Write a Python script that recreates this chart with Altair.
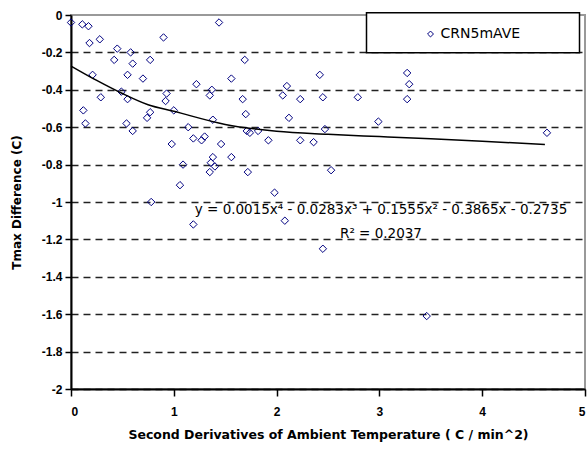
import altair as alt
import pandas as pd

# ---- data ----
series_name = ["CRN5mAVE"]

x_vals = [0.00, 0.11, 0.17, 0.18, 0.28, 0.45, 0.42, 0.58, 0.60, 0.77,
          0.90, 1.44, 0.21, 0.55, 0.70, 0.29, 0.49, 0.55, 0.93, 0.92,
          1.00, 0.74, 0.77, 0.12, 0.14, 0.54, 0.60, 0.98, 1.14, 1.19,
          1.27, 1.30, 1.46, 1.09, 1.06, 1.38, 1.36, 1.40, 1.35, 1.56,
          1.72, 1.69, 1.22, 1.35, 1.37, 1.56, 1.67, 1.70, 1.38, 1.74,
          1.82, 1.92, 2.10, 2.06, 2.23, 2.12, 2.23, 2.36, 2.42, 1.98,
          2.08, 0.78, 1.19, 2.45, 2.79, 3.27, 3.29, 3.27, 2.47, 2.99,
          2.53, 4.63, 2.45, 3.46, 1.71]

y_vals = [-0.04, -0.05, -0.06, -0.15, -0.13, -0.18, -0.24, -0.20, -0.26, -0.24,
          -0.12, -0.04, -0.32, -0.32, -0.34, -0.44, -0.41, -0.45, -0.42, -0.46,
          -0.51, -0.55, -0.52, -0.51, -0.58, -0.58, -0.62, -0.69, -0.60, -0.66,
          -0.67, -0.65, -0.69, -0.80, -0.91, -0.76, -0.79, -0.81, -0.84, -0.76,
          -0.84, -0.24, -0.37, -0.43, -0.40, -0.34, -0.45, -0.53, -0.56, -0.63,
          -0.62, -0.67, -0.38, -0.43, -0.45, -0.55, -0.67, -0.68, -0.32, -0.95,
          -1.10, -1.00, -1.12, -0.44, -0.44, -0.31, -0.37, -0.45, -0.61, -0.57,
          -0.83, -0.63, -1.25, -1.61, -0.62]

# polynomial trend line
trend_x = [0.0, 0.25, 0.5, 0.75, 1.0, 1.5, 2.0, 2.5, 3.0, 3.5, 4.0, 4.61]
trend_y = [-0.273, -0.35, -0.42, -0.48, -0.515, -0.585, -0.622, -0.638, -0.650,
           -0.662, -0.675, -0.692]

x_ticks = [0, 1, 2, 3, 4, 5]
y_ticks = [0, -0.2, -0.4, -0.6, -0.8, -1, -1.2, -1.4, -1.6, -1.8, -2]

equation_text = ["y = 0.0015x\u2074 - 0.0283x\u00b3 + 0.1555x\u00b2 - 0.3865x - 0.2735"]
r2_text = ["R\u00b2 = 0.2037"]

x_title = "Second Derivatives of Ambient Temperature ( C / min^2)"
y_title = "Tmax Difference (C)"

FONT = "Liberation Sans"
WIDE = "DejaVu Sans"

df = pd.DataFrame({"x": x_vals, "y": y_vals, "series": series_name * len(x_vals)})
trend_df = pd.DataFrame({"x": trend_x, "y": trend_y})

xscale = alt.Scale(domain=[0, 5], nice=False, zero=False)
yscale = alt.Scale(domain=[-2, 0], nice=False, zero=False)

x_axis = alt.Axis(
    values=x_ticks, tickCount=len(x_ticks), grid=False, title=x_title,
    labelExpr="'' + datum.value",
    labelFont=FONT, labelFontSize=12, labelFontWeight="bold", labelColor="black",
    titleFont=WIDE, titleFontSize=12.5, titleFontWeight="bold", titleColor="black",
    domainColor="black", domainWidth=2, tickColor="black", tickWidth=1.5, tickSize=7,
    labelPadding=10, titlePadding=11,
)

y_axis = alt.Axis(
    values=y_ticks, tickCount=len(y_ticks), labelOverlap=False, title=y_title,
    labelExpr="'' + datum.value",
    labelFont=FONT, labelFontSize=12, labelFontWeight="bold", labelColor="black",
    titleFont=WIDE, titleFontSize=12, titleFontWeight="bold", titleColor="black",
    domainColor="black", domainWidth=2, tickColor="black", tickWidth=1.5, tickSize=6,
    labelPadding=3, titlePadding=18,
    grid=True,
    gridColor={"condition": {"test": "datum.value === 0", "value": "transparent"},
               "value": "#222222"},
    gridDash=[7, 5], gridWidth=1.5,
)

# legend frame (layout decoration, pixel positions relative to the plot area)
frame = alt.Chart(pd.DataFrame({"k": [0]})).mark_rect(
    fill="white", stroke="black", strokeWidth=1.5
).encode(
    x=alt.value(295.5), x2=alt.value(508.5),
    y=alt.value(-2.3), y2=alt.value(37.7),
)

points = alt.Chart(df).mark_point(
    shape="diamond", filled=False, size=55, strokeWidth=1, opacity=1
).encode(
    x=alt.X("x:Q", scale=xscale, axis=x_axis),
    y=alt.Y("y:Q", scale=yscale, axis=y_axis),
    color=alt.Color(
        "series:N",
        scale=alt.Scale(range=["#000080"]),
        legend=alt.Legend(
            title=None, orient="none", legendX=295.5, legendY=-2,
            padding=14, strokeColor="transparent", fillColor="transparent",
            symbolType="diamond", symbolSize=35, symbolStrokeWidth=1,
            symbolOffset=43, labelOffset=3,
            labelFont=WIDE, labelFontSize=14, labelColor="black", labelLimit=400,
        ),
    ),
)

trend = alt.Chart(trend_df).mark_line(
    color="black", strokeWidth=1.5, interpolate="monotone"
).encode(
    x=alt.X("x:Q", scale=xscale),
    y=alt.Y("y:Q", scale=yscale),
)

eq = alt.Chart(pd.DataFrame({"t": equation_text})).mark_text(
    font=WIDE, fontSize=13.5, color="black", align="center", baseline="middle"
).encode(text="t:N", x=alt.value(310), y=alt.value(195))

r2 = alt.Chart(pd.DataFrame({"t": r2_text})).mark_text(
    font=WIDE, fontSize=13.5, color="black", align="center", baseline="middle"
).encode(text="t:N", x=alt.value(310), y=alt.value(219))

chart = alt.layer(frame, points, trend, eq, r2).properties(
    width=514, height=374,
    padding={"left": 71, "top": 15, "right": 2, "bottom": 61},
    autosize=alt.AutoSizeParams(type="none"),
).configure_view(stroke="#999999", strokeWidth=2)

chart.save("out.html", embed_options={"renderer": "svg", "actions": False})
